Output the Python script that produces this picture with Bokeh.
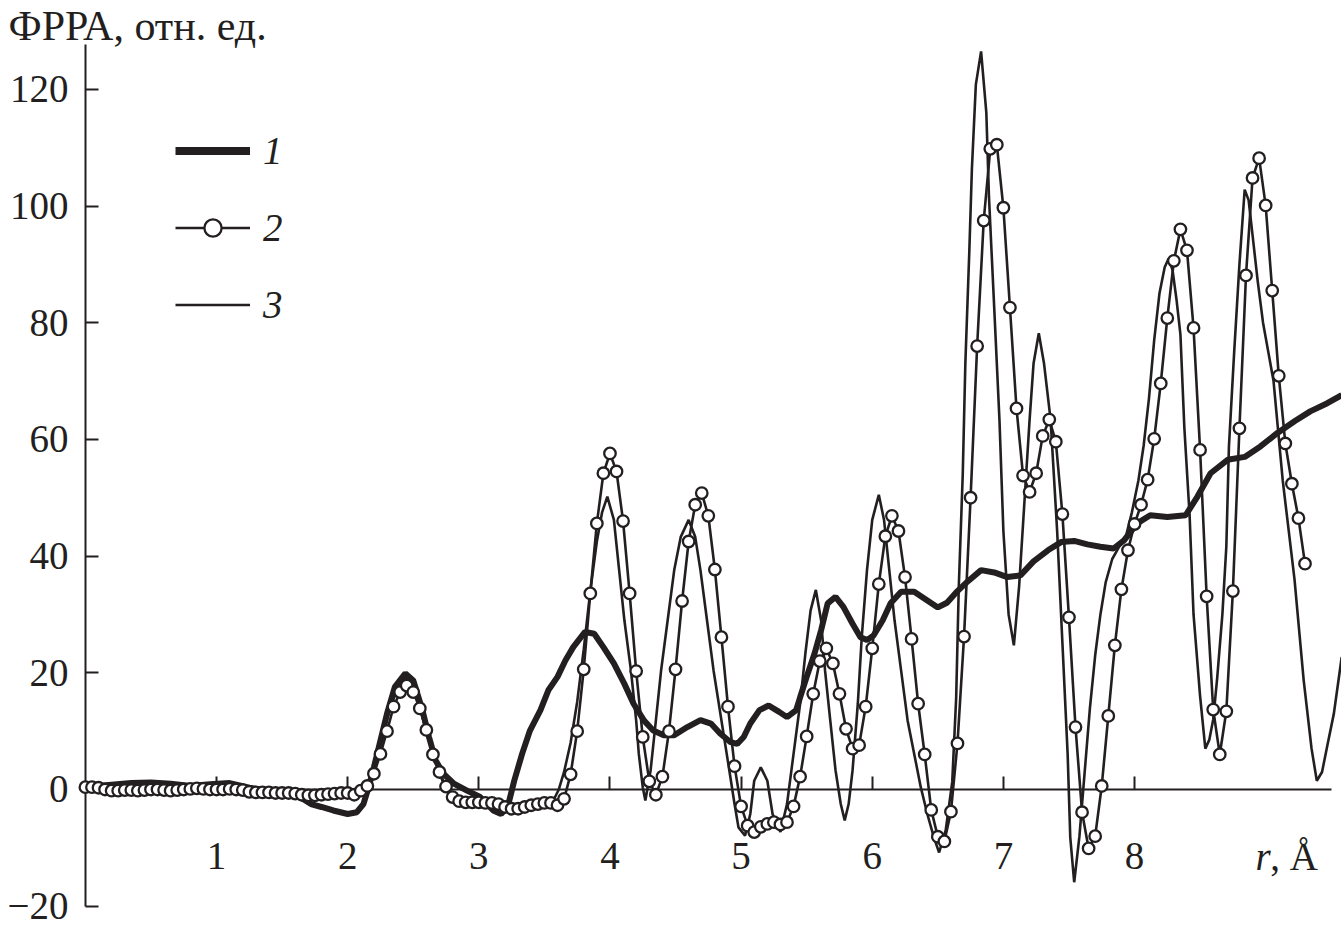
from bokeh.plotting import figure
from bokeh.models import (ColumnDataSource, FixedTicker, Legend, LegendItem, Label, Range1d)
from bokeh.embed import file_html
from bokeh.resources import INLINE

# ---------------- data ----------------
# curve 1: thick line
R1 = [0.05, 0.2, 0.35, 0.5, 0.65, 0.8, 0.95, 1.1, 1.25, 1.4, 1.55, 1.65, 1.72, 1.8, 1.89,
      2.0, 2.07, 2.12, 2.16, 2.2, 2.25, 2.3, 2.36, 2.44, 2.5, 2.57, 2.62, 2.67, 2.73, 2.81,
      2.91, 3.01, 3.11, 3.17, 3.22, 3.27, 3.33, 3.39, 3.47, 3.53, 3.6, 3.66, 3.72, 3.81,
      3.88, 3.95, 4.03, 4.11, 4.18, 4.26, 4.33, 4.41, 4.49, 4.59, 4.69, 4.77, 4.84, 4.92,
      4.97, 5.02, 5.07, 5.14, 5.21, 5.29, 5.35, 5.42, 5.45, 5.5, 5.56, 5.61, 5.66, 5.72,
      5.78, 5.85, 5.91, 5.96, 6.01, 6.08, 6.14, 6.22, 6.32, 6.42, 6.5, 6.57, 6.65, 6.73,
      6.83, 6.93, 7.03, 7.13, 7.23, 7.34, 7.44, 7.54, 7.64, 7.74, 7.84, 7.92, 8.02, 8.12,
      8.25, 8.39, 8.48, 8.58, 8.71, 8.84, 8.96, 9.09, 9.22, 9.34, 9.47, 9.58]
V1 = [0.5, 0.8, 1.1, 1.2, 1.0, 0.6, 0.9, 1.1, 0.3, -0.3, -0.8, -1.5, -2.5, -3.0, -3.6,
      -4.2, -3.9, -2.5, 0.4, 3.8, 8.4, 13.0, 17.6, 19.9, 18.7, 13.6, 9.0, 5.0, 2.7, 1.0,
      -0.2, -1.3, -3.6, -4.2, -3.0, 1.5, 6.1, 10.1, 13.6, 17.0, 19.3, 22.1, 24.4, 27.0,
      26.7, 24.4, 21.6, 18.1, 14.7, 11.8, 10.1, 9.3, 9.3, 10.7, 11.9, 11.3, 9.6, 8.1,
      7.8, 9.0, 11.3, 13.6, 14.4, 13.3, 12.4, 13.6, 15.8, 19.3, 23.3, 27.3, 31.9, 33.0,
      31.3, 28.4, 26.1, 25.6, 26.4, 29.0, 31.9, 33.9, 33.9, 32.4, 31.2, 32.0, 34.0, 35.7,
      37.6, 37.2, 36.4, 36.7, 39.1, 41.0, 42.4, 42.6, 42.0, 41.6, 41.3, 42.7, 45.6, 47.0,
      46.7, 47.0, 50.2, 54.2, 56.5, 57.0, 58.8, 61.1, 63.1, 64.8, 66.2, 67.6]

# curve 2: line with open circles
R2 = [0.0, 0.05, 0.1, 0.15, 0.2, 0.25, 0.3, 0.35, 0.4, 0.45, 0.5, 0.55, 0.6, 0.65, 0.7,
      0.75, 0.8, 0.85, 0.9, 0.95, 1.0, 1.05, 1.1, 1.15, 1.2, 1.25, 1.3, 1.35, 1.4, 1.45,
      1.5, 1.55, 1.6, 1.65, 1.7, 1.75, 1.8, 1.85, 1.9, 1.95, 2.0, 2.05, 2.1, 2.15, 2.2,
      2.25, 2.3, 2.35, 2.4, 2.45, 2.5, 2.55, 2.6, 2.65, 2.7, 2.75, 2.8, 2.85, 2.9, 2.95,
      3.0, 3.05, 3.1, 3.15, 3.2, 3.25, 3.3, 3.35, 3.4, 3.45, 3.5, 3.55, 3.6, 3.65, 3.7,
      3.75, 3.8, 3.85, 3.9, 3.95, 4.0, 4.05, 4.1, 4.15, 4.2, 4.25, 4.3, 4.35, 4.4, 4.45,
      4.5, 4.55, 4.6, 4.65, 4.7, 4.75, 4.8, 4.85, 4.9, 4.95, 5.0, 5.05, 5.1, 5.15, 5.2,
      5.25, 5.3, 5.35, 5.4, 5.45, 5.5, 5.55, 5.6, 5.65, 5.7, 5.75, 5.8, 5.85, 5.9, 5.95,
      6.0, 6.05, 6.1, 6.15, 6.2, 6.25, 6.3, 6.35, 6.4, 6.45, 6.5, 6.55, 6.6, 6.65, 6.7,
      6.75, 6.8, 6.85, 6.9, 6.95, 7.0, 7.05, 7.1, 7.15, 7.2, 7.25, 7.3, 7.35, 7.4, 7.45,
      7.5, 7.55, 7.6, 7.65, 7.7, 7.75, 7.8, 7.85, 7.9, 7.95, 8.0, 8.05, 8.1, 8.15, 8.2,
      8.25, 8.3, 8.35, 8.4, 8.45, 8.5, 8.55, 8.6, 8.65, 8.7, 8.75, 8.8, 8.85, 8.9, 8.95,
      9.0, 9.05, 9.1, 9.15, 9.2, 9.25, 9.3]
V2 = [0.4, 0.4, 0.3, 0.0, -0.2, -0.2, -0.1, -0.1, -0.2, -0.1, 0.0, 0.0, -0.1, -0.2, -0.1,
      0.0, 0.1, 0.2, 0.1, 0.0, 0.0, 0.0, 0.1, 0.0, -0.1, -0.4, -0.5, -0.5, -0.5, -0.6,
      -0.6, -0.6, -0.7, -0.9, -1.0, -1.0, -0.9, -0.8, -0.7, -0.6, -0.6, -0.9, -0.2, 0.6, 2.7,
      6.1, 10.0, 14.2, 16.7, 17.8, 16.7, 13.9, 10.2, 6.0, 3.0, 0.5, -1.3, -2.0, -2.2, -2.2,
      -2.2, -2.3, -2.3, -2.5, -3.0, -3.3, -3.3, -3.0, -2.7, -2.5, -2.3, -2.3, -2.7, -1.6, 2.6,
      10.0, 20.6, 33.6, 45.6, 54.2, 57.6, 54.5, 46.0, 33.6, 20.3, 9.0, 1.4, -0.9, 2.2, 10.0,
      20.6, 32.3, 42.5, 48.8, 50.8, 46.9, 37.7, 26.1, 14.2, 4.0, -2.9, -6.2, -7.3, -6.4, -5.9,
      -5.6, -6.0, -5.6, -2.9, 2.2, 9.1, 16.4, 22.0, 24.2, 21.6, 16.4, 10.4, 7.0, 7.6, 14.2,
      24.2, 35.2, 43.4, 46.9, 44.3, 36.4, 25.8, 14.7, 6.0, -3.5, -8.1, -8.9, -3.8, 7.9, 26.2,
      50.0, 76.0, 97.5, 109.8, 110.5, 99.7, 82.6, 65.3, 53.8, 51.0, 54.2, 60.6, 63.4, 59.6, 47.2,
      29.5, 10.7, -3.9, -10.1, -8.0, 0.6, 12.6, 24.7, 34.3, 41.0, 45.5, 48.8, 53.1, 60.1, 69.6,
      80.8, 90.6, 96.0, 92.4, 79.1, 58.2, 33.1, 13.7, 6.0, 13.4, 34.0, 61.9, 88.1, 104.8, 108.2,
      100.1, 85.5, 70.9, 59.3, 52.4, 46.5, 38.7]

# curve 3: thin line
R3 = [0.05, 0.3, 0.6, 0.9, 1.2, 1.5, 1.8, 2.0, 2.08, 2.13, 2.18, 2.23, 2.28, 2.34, 2.4,
      2.45, 2.5, 2.55, 2.6, 2.65, 2.7, 2.75, 2.8, 2.85, 2.95, 3.05, 3.15, 3.22, 3.3, 3.38,
      3.46, 3.52, 3.57, 3.61, 3.65, 3.7, 3.75, 3.8, 3.85, 3.9, 3.94, 3.98, 4.03, 4.07, 4.11,
      4.16, 4.2, 4.22, 4.25, 4.27, 4.31, 4.35, 4.39, 4.44, 4.49, 4.54, 4.6, 4.65, 4.69, 4.74,
      4.79, 4.83, 4.87, 4.91, 4.95, 4.98, 5.03, 5.07, 5.1, 5.15, 5.2, 5.24, 5.3, 5.35, 5.4,
      5.45, 5.49, 5.53, 5.57, 5.61, 5.64, 5.68, 5.72, 5.76, 5.79, 5.82, 5.85, 5.89, 5.92, 5.96,
      6.0, 6.05, 6.09, 6.13, 6.17, 6.22, 6.27, 6.32, 6.37, 6.42, 6.47, 6.51, 6.56, 6.61, 6.64,
      6.66, 6.69, 6.71, 6.74, 6.76, 6.79, 6.83, 6.87, 6.89, 6.93, 6.97, 7.0, 7.04, 7.08, 7.12,
      7.16, 7.2, 7.23, 7.27, 7.31, 7.36, 7.41, 7.45, 7.49, 7.51, 7.54, 7.58, 7.62, 7.66, 7.7,
      7.74, 7.78, 7.83, 7.88, 7.93, 7.98, 8.03, 8.07, 8.11, 8.15, 8.19, 8.23, 8.26, 8.29, 8.32,
      8.35, 8.38, 8.42, 8.45, 8.5, 8.54, 8.57, 8.6, 8.63, 8.67, 8.7, 8.72, 8.76, 8.8, 8.84,
      8.87, 8.9, 8.94, 8.98, 9.02, 9.06, 9.13, 9.22, 9.29, 9.35, 9.39, 9.43, 9.47, 9.52, 9.58]
V3 = [0.2, 0.0, 0.1, 0.2, 0.0, -0.5, -1.0, -1.2, -1.0, 0.3, 2.5, 6.0, 10.5, 15.0, 18.3,
      19.2, 17.5, 14.0, 10.0, 6.0, 2.8, 0.0, -2.0, -2.6, -2.8, -2.9, -3.3, -3.8, -3.8, -3.4,
      -3.0, -2.6, -1.8, 0.0, 3.0, 8.0, 15.0, 24.0, 34.0, 42.5, 47.5, 50.2, 46.2, 37.6, 29.0,
      20.4, 11.8, 6.1, 0.4, -1.9, 3.3, 11.8, 20.4, 29.0, 37.6, 43.3, 46.2, 43.3, 37.6, 29.0,
      20.4, 14.7, 9.0, 3.3, -2.5, -6.5, -7.9, -4.2, 1.5, 3.8, 1.5, -4.2, -7.3, -2.5, 6.1,
      14.7, 23.3, 30.7, 34.2, 29.0, 20.4, 11.8, 3.3, -2.5, -5.3, -2.5, 3.3, 14.7, 26.1, 37.6,
      46.2, 50.5, 46.2, 37.6, 29.0, 20.4, 11.8, 6.1, 0.4, -4.2, -8.2, -10.8, -7.0, 1.3, 15.7,
      34.8, 53.9, 73.0, 92.1, 106.4, 120.8, 126.5, 116.0, 101.6, 82.6, 63.4, 44.3, 30.0, 24.7, 34.8,
      49.1, 63.4, 73.0, 78.2, 73.0, 63.4, 44.3, 25.2, 6.1, -8.2, -15.9, -8.0, 3.0, 14.0, 23.0,
      30.0, 35.5, 39.5, 41.5, 43.0, 47.5, 53.0, 59.0, 67.0, 77.0, 85.0, 89.5, 91.0, 89.0, 84.0,
      78.0, 62.0, 47.0, 30.0, 16.0, 7.0, 8.5, 12.0, 19.0, 30.0, 41.6, 58.8, 75.0, 90.0, 102.8,
      101.0, 95.0, 87.0, 80.0, 75.0, 70.0, 53.0, 36.0, 18.7, 7.0, 1.5, 3.0, 7.5, 13.0, 22.7]

X_TICKS = [1, 2, 3, 4, 5, 6, 7, 8]
Y_TICKS = [-20, 0, 20, 40, 60, 80, 100, 120]
LEGEND_LABELS = ["1", "2", "3"]
Y_TITLE = "ФРРА, отн. ед."

# ---------------- figure ----------------
INK = "#231f20"
SERIF = "Liberation Serif"

p = figure(width=1341, height=931, output_backend="svg", toolbar_location=None, title=None,
           x_range=Range1d(-0.6474, 9.5783), y_range=Range1d(-24.34, 135.22),
           min_border_left=0, min_border_right=0, min_border_top=0, min_border_bottom=0)
p.outline_line_color = None
p.xgrid.visible = False
p.ygrid.visible = False

for ax in (p.xaxis[0], p.yaxis[0]):
    ax.fixed_location = 0
    ax.axis_line_color = INK
    ax.axis_line_width = 2
    ax.major_tick_line_color = INK
    ax.major_tick_line_width = 2
    ax.major_tick_in = 13
    ax.major_tick_out = 0
    ax.minor_tick_line_color = None
    ax.major_label_text_font = SERIF
    ax.major_label_text_font_size = "39px"
    ax.major_label_text_color = INK
    ax.level = "underlay"

p.xaxis[0].ticker = FixedTicker(ticks=X_TICKS)
p.xaxis[0].bounds = (0, 9.5)
p.xaxis[0].major_label_standoff = 54
p.yaxis[0].ticker = FixedTicker(ticks=Y_TICKS)
p.yaxis[0].bounds = (-20, 127.7)
p.yaxis[0].major_label_standoff = 17
p.yaxis[0].major_label_overrides = {-20: "\u221220"}

src1 = ColumnDataSource(dict(x=R1, y=V1))
src2 = ColumnDataSource(dict(x=R2, y=V2))
src3 = ColumnDataSource(dict(x=R3, y=V3))

l1 = p.line("x", "y", source=src1, line_width=6, line_color=INK)
l3 = p.line("x", "y", source=src3, line_width=2.6, line_color=INK)
l2 = p.line("x", "y", source=src2, line_width=2.6, line_color=INK)
c2 = p.scatter("x", "y", source=src2, marker="circle", size=11.5, line_width=2.3,
               line_color=INK, fill_color="white")

leg1 = p.line(x=[float("nan")], y=[float("nan")], line_width=8, line_color=INK)

legend = Legend(items=[LegendItem(label=LEGEND_LABELS[0], renderers=[leg1]),
                       LegendItem(label=LEGEND_LABELS[1], renderers=[l2, c2]),
                       LegendItem(label=LEGEND_LABELS[2], renderers=[l3])],
                location=(175, 604), orientation="vertical",
                padding=0, margin=0, spacing=32,
                glyph_width=75, glyph_height=43, label_height=43, label_width=20,
                label_standoff=13,
                label_text_font=SERIF, label_text_font_style="italic",
                label_text_font_size="39px", label_text_color=INK,
                border_line_color=None, background_fill_alpha=0)
p.add_layout(legend, "center")

p.add_layout(Label(x=-0.586, y=130.8, text=Y_TITLE, text_font=SERIF, text_font_size="42px",
                   text_color=INK, text_baseline="alphabetic", text_align="left"))
p.add_layout(Label(x=8.923, y=-11.5, text="r", text_font=SERIF, text_font_size="39px",
                   text_font_style="italic", text_color=INK, text_baseline="alphabetic",
                   text_align="left"))
p.add_layout(Label(x=9.035, y=-11.5, text=", \u00c5", text_font=SERIF, text_font_size="39px",
                   text_color=INK, text_baseline="alphabetic", text_align="left"))

open("out.html", "w").write(file_html(p, INLINE))
